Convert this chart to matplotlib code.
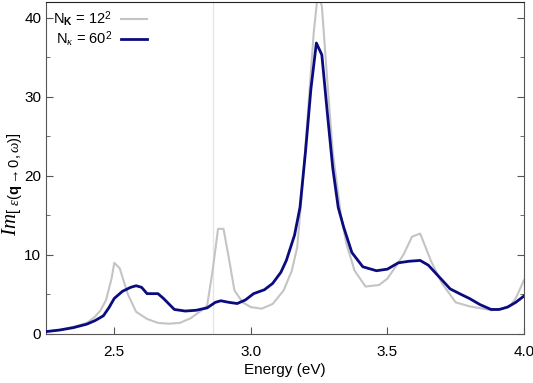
import matplotlib
matplotlib.use("Agg")
import matplotlib.pyplot as plt
from matplotlib.ticker import MultipleLocator, FormatStrFormatter

# N_K = 12^2 (coarse grid)
e_12 = [2.25, 2.30, 2.35, 2.40, 2.43, 2.45, 2.47, 2.49, 2.50, 2.52, 2.55, 2.58,
        2.62, 2.66, 2.70, 2.74, 2.78, 2.82, 2.84, 2.86, 2.88, 2.90, 2.92, 2.94,
        2.97, 3.00, 3.04, 3.08, 3.12, 3.15, 3.17, 3.19, 3.21, 3.23, 3.245, 3.26,
        3.28, 3.30, 3.33, 3.35, 3.38, 3.42, 3.47, 3.50, 3.53, 3.56, 3.59, 3.62,
        3.66, 3.70, 3.75, 3.80, 3.85, 3.88, 3.92, 3.95, 3.97, 4.00]
im_12 = [0.3, 0.5, 0.9, 1.4, 2.2, 3.0, 4.3, 7.0, 9.0, 8.3, 5.0, 2.8,
         1.9, 1.4, 1.3, 1.4, 2.0, 3.0, 3.6, 8.0, 13.3, 13.3, 9.5, 5.5,
         4.0, 3.4, 3.2, 3.8, 5.5, 8.0, 11.0, 19.0, 28.5, 38.0, 43.0, 41.5,
         32.0, 23.0, 15.0, 11.4, 8.0, 6.0, 6.2, 7.0, 8.5, 10.1, 12.3, 12.7,
         9.2, 6.4, 4.0, 3.5, 3.2, 3.0, 3.2, 3.6, 4.5, 6.8]

# N_K = 60^2 (fine grid)
e_60 = [2.25, 2.30, 2.35, 2.40, 2.43, 2.46, 2.48, 2.50, 2.53, 2.56, 2.58, 2.60,
        2.62, 2.66, 2.68, 2.72, 2.76, 2.80, 2.84, 2.87, 2.89, 2.92, 2.95, 2.98,
        3.01, 3.05, 3.08, 3.11, 3.13, 3.16, 3.18, 3.20, 3.22, 3.24, 3.26, 3.28,
        3.30, 3.32, 3.34, 3.37, 3.41, 3.46, 3.50, 3.54, 3.58, 3.62, 3.65, 3.69,
        3.73, 3.77, 3.80, 3.84, 3.88, 3.91, 3.94, 3.97, 4.00]
im_60 = [0.3, 0.5, 0.8, 1.25, 1.7, 2.3, 3.3, 4.5, 5.4, 5.9, 6.1, 5.9,
         5.1, 5.1, 4.5, 3.1, 2.9, 3.0, 3.3, 4.0, 4.2, 4.0, 3.85, 4.3,
         5.1, 5.6, 6.4, 7.8, 9.3, 12.5, 16.0, 23.0, 31.0, 36.8, 35.3, 28.0,
         21.0, 16.0, 13.5, 10.3, 8.5, 8.0, 8.2, 9.0, 9.2, 9.3, 8.7, 7.2,
         5.7, 5.0, 4.5, 3.7, 3.1, 3.1, 3.4, 4.0, 4.8]

e_marker = 2.862

plt.rcParams['font.family'] = ['Liberation Sans', 'DejaVu Sans']
plt.rcParams['mathtext.fontset'] = 'custom'
plt.rcParams['mathtext.rm'] = 'Liberation Sans'
plt.rcParams['mathtext.bf'] = 'Liberation Sans:bold'
plt.rcParams['mathtext.it'] = 'Liberation Serif:italic'

fig = plt.figure(figsize=(5.33, 3.83), dpi=100)
ax = fig.add_axes([0.0863, 0.128, 0.8967, 0.867])

ax.axvline(e_marker, color='#e4e4e4', lw=0.9, zorder=1)
ax.plot(e_12, im_12, color='#c4c4c4', lw=1.5, label=r'N$_{\mathbf{K}}$ = 12$^2$', zorder=2)
ax.plot(e_60, im_60, color='#0b0b80', lw=2.0, label=r'N$_{\kappa}$ = 60$^2$', zorder=3)

ax.set_xlim(2.25, 4.0)
ax.set_ylim(0, 42)
ax.xaxis.set_major_locator(MultipleLocator(0.5))
ax.yaxis.set_major_locator(MultipleLocator(10))
ax.yaxis.set_minor_locator(MultipleLocator(5))
ax.xaxis.set_major_formatter(FormatStrFormatter('%.1f'))
ax.tick_params(direction='in', which='both', right=True, labelsize=11, color='#555555')
ax.tick_params(which='major', length=5)
ax.tick_params(which='minor', length=3)
ax.tick_params(axis='x', pad=8)
for sp in ax.spines.values():
    sp.set_color('#555555')
ax.spines['top'].set_color('#222222')

ax.set_xlabel('Energy (eV)', fontsize=11, labelpad=3)
ax.set_ylabel(r'$Im\left[\;{}_{\varepsilon(\mathbf{q}\rightarrow 0,\omega)}\right]$', fontsize=15)
ax.yaxis.set_label_coords(-0.043, 0.45)

ax.legend(loc='upper left', frameon=False, markerfirst=False, fontsize=10.5,
          handlelength=1.8, handletextpad=0.6, borderaxespad=0.1, labelspacing=0.0)

fig.savefig('out.png', dpi=100)
